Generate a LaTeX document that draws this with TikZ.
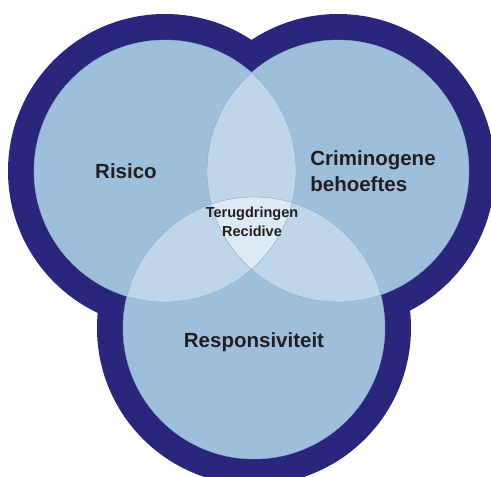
\documentclass[tikz,border=0pt]{standalone}
\usepackage{fontspec}
\setmainfont{Liberation Sans}
\usepackage{xcolor}
\usepackage{tikz}
\usetikzlibrary{positioning}
\definecolor{ringnavy}{HTML}{29267C}
\definecolor{vennblue}{HTML}{9EBFDC}
\definecolor{pairblue}{HTML}{BED5EA}
\definecolor{coreblue}{HTML}{DDE9F4}
\definecolor{edgeblue}{HTML}{8CA8CE}
\definecolor{textdark}{HTML}{231F20}

\begin{document}
\begin{tikzpicture}[x=1pt, y=1pt,
    ring/.style={fill=ringnavy},
    base/.style={fill=vennblue},
    pair/.style={fill=pairblue},
    core/.style={fill=coreblue},
    rim/.style={draw=edgeblue, line width=0.4pt},
    biglbl/.style={font=\fontsize{20.5}{26}\selectfont\bfseries, text=textdark, align=left, inner sep=0pt},
    smalllbl/.style={font=\fontsize{14.5}{19}\selectfont\bfseries, text=textdark, align=center, inner sep=0pt}]

    \useasboundingbox (0,0) rectangle (491,-477);

    % circle centres
    \coordinate (risk) at (165,-171);
    \coordinate (need) at (338,-171);
    \coordinate (resp) at (254,-328);

    % navy outer band
    \foreach \c in {risk,need,resp}
      \fill[ring] (\c) circle (157);

    % light fills
    \foreach \c in {risk,need,resp}
      \fill[base] (\c) circle (131);

    % pairwise overlaps
    \begin{scope}
      \clip (risk) circle (131);
      \fill[pair] (need) circle (131);
      \fill[pair] (resp) circle (131);
    \end{scope}
    \begin{scope}
      \clip (need) circle (131);
      \fill[pair] (resp) circle (131);
    \end{scope}

    % centre overlap
    \begin{scope}
      \clip (risk) circle (131);
      \clip (need) circle (131);
      \fill[core] (resp) circle (131);
    \end{scope}

    % thin outlines
    \foreach \c in {risk,need,resp}
      \draw[rim] (\c) circle (131);

    % labels
    \node (risico) [biglbl] at (126,-171) {Risico};
    \node (crim) [biglbl] at (373,-171) {Criminogene\\behoeftes};
    \node (respons) [biglbl] at (254,-342) {Responsiviteit};
    \node (recid) [smalllbl] at (252,-222) {Terugdringen\\Recidive};
\end{tikzpicture}
\end{document}
